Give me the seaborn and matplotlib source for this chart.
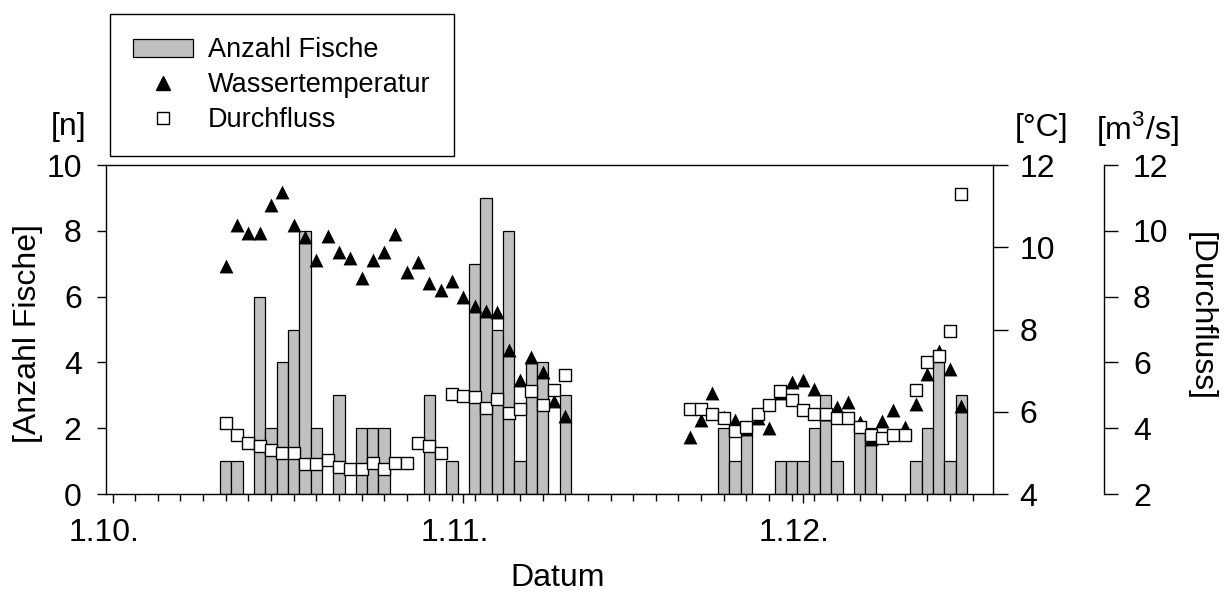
import pandas as pd
import matplotlib.pyplot as plt
import matplotlib.dates as mdates
import seaborn as sns
from matplotlib.lines import Line2D
from matplotlib.patches import Patch
from matplotlib.ticker import FixedLocator, MultipleLocator
from matplotlib.transforms import ScaledTranslation

# Anzahl Fische pro Tag, 11.10. - 15.12.
fish_first_day = "2003-10-11"
fish_count = [1, 1, 0, 6, 2, 4, 5, 8, 2, 0, 3, 0, 2, 2, 2, 0, 0, 0, 3, 0, 1, 0,
              7, 9, 5, 8, 1, 4, 4, 0, 3,
              0, 0, 0, 0, 0, 0, 0, 0, 0, 0, 0, 0, 0,
              2, 1, 2, 0, 0, 1, 1, 1, 2, 3, 1, 0, 2, 2, 0, 0, 0, 1, 2, 4, 1, 3]

# Wassertemperatur [°C], zwei Messperioden
period1_first_day = "2003-10-11"
temp_1 = [9.54, 10.55, 10.35, 10.35, 11.04, 11.34, 10.55, 10.25, 9.70, 10.27,
          9.88, 9.74, 9.26, 9.70, 9.88, 10.33, 9.39, 9.64, 9.13, 8.97,
          9.17, 8.79, 8.57, 8.45, 8.42, 7.50, 6.78, 7.33, 6.97, 6.27, 5.90]
period2_first_day = "2003-11-21"
temp_2 = [5.38, 5.79, 6.46, 5.88, 5.79, 5.58, 5.85, 5.60, 6.45, 6.72,
          6.77, 6.56, 5.95, 6.11, 6.23, 5.75, 5.33, 5.78, 6.04, 5.64,
          6.20, 6.92, 7.47, 7.05, 6.15]

# Durchfluss [m3/s]
flow_1 = [4.16, 3.79, 3.56, 3.46, 3.34, 3.24, 3.24, 2.91, 2.91, 3.03,
          2.83, 2.75, 2.75, 2.93, 2.75, 2.93, 2.93, 3.56, 3.47, 3.24,
          5.05, 4.98, 4.94, 4.63, 4.88, 4.45, 4.57, 5.13, 4.70, 5.16, 5.62]
flow_2 = [4.57, 4.57, 4.42, 4.30, 3.91, 4.05, 4.43, 4.70, 5.13, 4.86,
          4.55, 4.42, 4.42, 4.30, 4.30, 4.05, 3.79, 3.69, 3.79, 3.79,
          5.16, 6.02, 6.19, 6.95, 11.12]

month_starts = ["2003-10-01", "2003-11-01", "2003-12-01"]
month_labels = ["1.10.", "1.11.", "1.12."]


def daily(first_day, values, name):
    d = pd.DataFrame({"datum": pd.date_range(first_day, periods=len(values), freq="D"),
                      name: values})
    d["x"] = mdates.date2num(d["datum"])
    return d


fish = daily(fish_first_day, fish_count, "anzahl")
fish = fish[fish["anzahl"] > 0]
temp = pd.concat([daily(period1_first_day, temp_1, "temp"),
                  daily(period2_first_day, temp_2, "temp")])
flow = pd.concat([daily(period1_first_day, flow_1, "flow"),
                  daily(period2_first_day, flow_2, "flow")])

sns.set_style("ticks", {"axes.edgecolor": "black", "xtick.color": "black",
                        "ytick.color": "black", "text.color": "black",
                        "axes.labelcolor": "black"})
plt.rcParams["font.family"] = ["Liberation Sans", "DejaVu Sans"]
plt.rcParams["mathtext.fontset"] = "custom"
plt.rcParams["mathtext.rm"] = "Liberation Sans"
plt.rcParams["axes.linewidth"] = 1.0

FS = 23

fig = plt.figure(figsize=(12.26, 5.92), dpi=100)
ax = fig.add_axes([0.0865, 0.1655, 0.7235, 0.5557])
ax2 = ax.twinx()
ax3 = ax.twinx()

# bars
sns.histplot(data=fish, x="x", weights="anzahl", discrete=True, ax=ax,
             color="#c0c0c0", edgecolor="black", linewidth=0.9, alpha=1)

# temperature
sns.scatterplot(data=temp, x="x", y="temp", ax=ax2, marker="^", s=100,
                color="black", edgecolor="black", linewidth=0, legend=False)

# discharge
sns.scatterplot(data=flow, x="x", y="flow", ax=ax3, marker="s", s=72,
                color="white", edgecolor="black", linewidth=1.0, legend=False)

x0 = mdates.date2num(pd.Timestamp(month_starts[0]))
ax.set_xlim(x0 - 0.57, x0 + 77.8)
ax.set_ylim(0, 10)
ax2.set_ylim(4, 12)
ax3.set_ylim(2, 12)

ax.xaxis.set_major_locator(FixedLocator(mdates.date2num(pd.to_datetime(month_starts))))
ax.set_xticklabels(month_labels)
ax.xaxis.set_minor_locator(MultipleLocator(2))
ax.set_yticks(range(0, 11, 2))
ax2.set_yticks(range(4, 13, 2))
ax3.set_yticks(range(2, 13, 2))

ax.tick_params(axis="x", which="major", length=6.5, width=1, pad=11, labelsize=FS)
ax.tick_params(axis="x", which="minor", length=5, width=1)
ax.tick_params(axis="y", length=6.5, width=1, pad=11, labelsize=FS)
ax2.tick_params(axis="y", length=11, width=1, pad=8, labelsize=FS)
ax3.tick_params(axis="y", length=10, width=1, pad=11, labelsize=FS)

for lbl in ax.get_xticklabels():
    lbl.set_transform(lbl.get_transform() + ScaledTranslation(-0.09, 0, fig.dpi_scale_trans))

for s in ["left", "top", "bottom"]:
    ax2.spines[s].set_visible(False)
    ax3.spines[s].set_visible(False)
ax.spines["right"].set_visible(False)
ax3.spines["right"].set_position(("axes", 1.125))

ax.set_xlabel("Datum", fontsize=FS, va="center")
ax.xaxis.set_label_coords(0.5096, -0.255)
ax.set_ylabel("[Anzahl Fische]", fontsize=FS, va="center")
ax.yaxis.set_label_coords(-0.0885, 0.489)
ax2.set_ylabel("")
ax2.set_xlabel("")
ax3.set_xlabel("")
ax3.set_ylabel("[Durchfluss]", fontsize=FS, rotation=270, va="center")
ax3.yaxis.set_label_coords(1.2345, 0.54)

fig.text(69 / 1226, 1 - 127 / 592, "[n]", fontsize=FS, ha="center", va="center")
fig.text(1042 / 1226, 1 - 128 / 592, "[°C]", fontsize=FS, ha="center", va="center")
fig.text(1137 / 1226, 1 - 128 / 592, "[m$^{3}$/s]", fontsize=FS, ha="center", va="center")

handles = [Patch(facecolor="#c0c0c0", edgecolor="black", linewidth=0.9),
           Line2D([], [], marker="^", color="black", linestyle="none", markersize=10),
           Line2D([], [], marker="s", color="black", markerfacecolor="white",
                  linestyle="none", markersize=8, markeredgewidth=1.0)]
leg = fig.legend(handles, ["Anzahl Fische", "Wassertemperatur", "Durchfluss"],
                 loc="upper left", bbox_to_anchor=(110 / 1226, 1 - 14 / 592),
                 borderaxespad=0, frameon=True, fancybox=False, framealpha=1,
                 edgecolor="black", fontsize=19.5, handlelength=2.2,
                 handleheight=0.62, handletextpad=0.56, borderpad=0.86,
                 labelspacing=0.33)
leg.get_frame().set_linewidth(1.0)

fig.savefig("out.png", dpi=100)
